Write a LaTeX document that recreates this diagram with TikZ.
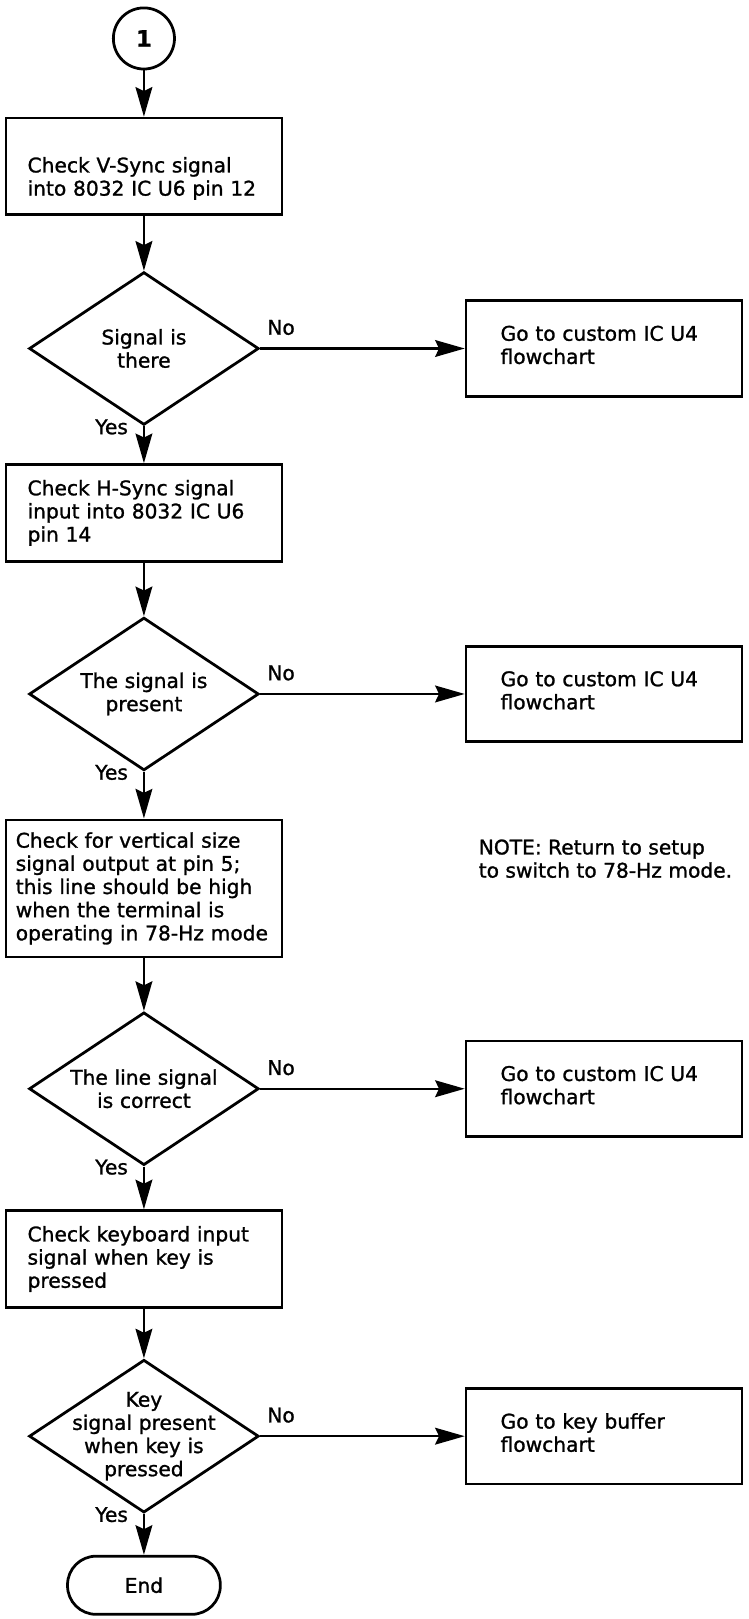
\documentclass[tikz,border=0pt]{standalone}
\usepackage{fontspec}
\newfontfamily\flowfont{DejaVu Sans}[FakeBold=1.2]
\usetikzlibrary{matrix,shapes.geometric,arrows.meta,positioning}

\begin{document}
\begin{tikzpicture}[
font={\flowfont\fontsize{20.5pt}{23.5pt}\selectfont},
line width=2.5pt,
flow/.style={-{Stealth[length=30pt,width=17pt,inset=4pt]}},
process/.style={draw,rectangle,line width=2.8pt,minimum width=280pt,minimum height=98pt,text width=236pt,inner xsep=22pt,align=left},
widebox/.style={text width=260pt,inner xsep=10pt,minimum height=139pt},
decision/.style={draw,diamond,line width=2.8pt,minimum width=233pt,minimum height=155pt,aspect=1.5,text width=160pt,inner sep=0pt,align=center},
connector/.style={draw,circle,line width=2.8pt,minimum size=62pt,inner sep=0pt,font={\flowfont\bfseries\fontsize{23pt}{25pt}\selectfont}},
terminal/.style={draw,rectangle,rounded corners=29pt,line width=2.8pt,minimum width=155pt,minimum height=59pt},
goto/.style={draw,rectangle,line width=2.8pt,minimum width=280pt,minimum height=97pt,text width=210pt,inner xsep=35pt,text depth=31pt,align=left},
yeslabel/.style={anchor=base east,inner sep=0pt,xshift=-15pt,yshift=-8pt},
nolabel/.style={anchor=base west,inner sep=0pt,xshift=6pt,yshift=14pt}
]
\matrix (m) [matrix of nodes,
nodes={anchor=center},
column sep=184pt,row sep=48pt,
column 2/.style={nodes={goto}}
]{
|[connector]| 1 & \\[-1pt]
|[process,text height=40pt]| {Check V-Sync signal\\into 8032 IC U6 pin 12} & \\[8pt]
|[decision]| {Signal is\\there} & {Go to custom IC U4\\flowchart} \\[-10pt]
|[process]| {Check H-Sync signal\\input into 8032 IC U6\\pin 14} & \\[7pt]
|[decision]| {The signal is\\present} & {Go to custom IC U4\\flowchart} \\[0pt]
|[process,widebox]| {Check for vertical size\\signal output at pin 5;\\this line should be high\\when the terminal is\\operating in 78-Hz mode} & \\[6pt]
|[decision]| {The line signal\\is correct} & {Go to custom IC U4\\flowchart} \\[-4pt]
|[process]| {Check keyboard input\\signal when key is\\pressed} & \\[3pt]
|[decision,inner sep=-14pt]| {Key\\signal present\\when key is\\pressed} & {Go to key buffer\\flowchart} \\[-6pt]
|[terminal]| End & \\
};

\node (note) [inner sep=0pt,align=left,below right=20pt and 197pt of m-6-1.north east] {NOTE: Return to setup\\to switch to 78-Hz mode.};

\foreach \a/\b in {1/2,2/3,3/4,4/5,5/6,6/7,7/8,8/9,9/10} {
\draw[flow] (m-\a-1) -- (m-\b-1);
};

\foreach \r in {3,5,7,9} {
\draw[flow] (m-\r-1) -- node[nolabel,pos=0] (no\r) {No} (m-\r-2);
\node[yeslabel] (yes\r) at (m-\r-1.south) {Yes};
};

\path (m-1-1.center) ++(-146pt,39pt) rectangle ++(759pt,-1619pt);
\end{tikzpicture}
\end{document}
